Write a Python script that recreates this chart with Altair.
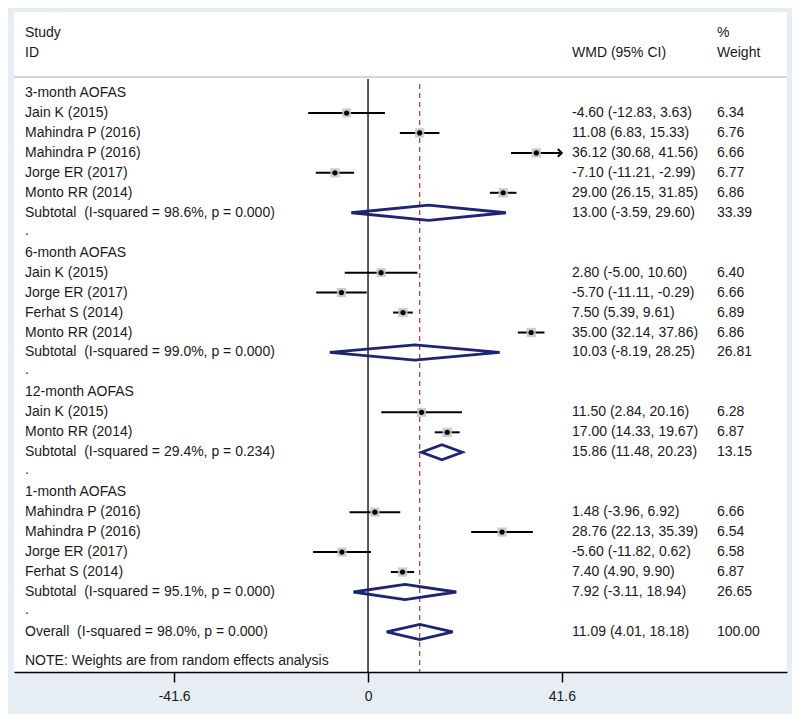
import altair as alt
import pandas as pd

# ---------------- data ----------------
group_names = ["3-month AOFAS", "6-month AOFAS", "12-month AOFAS", "1-month AOFAS"]
study_names = [
    ["Jain K (2015)", "Mahindra P (2016)", "Mahindra P (2016)", "Jorge ER (2017)", "Monto RR (2014)"],
    ["Jain K (2015)", "Jorge ER (2017)", "Ferhat S (2014)", "Monto RR (2014)"],
    ["Jain K (2015)", "Monto RR (2014)"],
    ["Mahindra P (2016)", "Mahindra P (2016)", "Jorge ER (2017)", "Ferhat S (2014)"],
]
study_est = [[-4.60, 11.08, 36.12, -7.10, 29.00], [2.80, -5.70, 7.50, 35.00], [11.50, 17.00], [1.48, 28.76, -5.60, 7.40]]
study_lo = [[-12.83, 6.83, 30.68, -11.21, 26.15], [-5.00, -11.11, 5.39, 32.14], [2.84, 14.33], [-3.96, 22.13, -11.82, 4.90]]
study_hi = [[3.63, 15.33, 41.56, -2.99, 31.85], [10.60, -0.29, 9.61, 37.86], [20.16, 19.67], [6.92, 35.39, 0.62, 9.90]]
study_wt = [[6.34, 6.76, 6.66, 6.77, 6.86], [6.40, 6.66, 6.89, 6.86], [6.28, 6.87], [6.66, 6.54, 6.58, 6.87]]

sub_het = ["I-squared = 98.6%, p = 0.000", "I-squared = 99.0%, p = 0.000",
           "I-squared = 29.4%, p = 0.234", "I-squared = 95.1%, p = 0.000"]
sub_est = [13.00, 10.03, 15.86, 7.92]
sub_lo = [-3.59, -8.19, 11.48, -3.11]
sub_hi = [29.60, 28.25, 20.23, 18.94]
sub_wt = [33.39, 26.81, 13.15, 26.65]

overall_het = "I-squared = 98.0%, p = 0.000"
overall_est, overall_lo, overall_hi, overall_wt = 11.09, 4.01, 18.18, 100.00

axis_ticks = [-41.6, 0, 41.6]
note_text = "NOTE: Weights are from random effects analysis"

# ---------------- build tables ----------------
def ci_text(e, l, h):
    return f"{e:.2f} ({l:.2f}, {h:.2f})"

SP2 = " \u00a0"  # double space as in the original

text_rows, study_rows, diamond_rows = [], [], []
r = 0
for g, gname in enumerate(group_names):
    text_rows.append(dict(row=r, label=gname, wmd="", wt=""))
    r += 1
    for i, s in enumerate(study_names[g]):
        e, l, h, w = study_est[g][i], study_lo[g][i], study_hi[g][i], study_wt[g][i]
        text_rows.append(dict(row=r, label=s, wmd=ci_text(e, l, h), wt=f"{w:.2f}"))
        study_rows.append(dict(row=r, est=e, lo=l, hi=h, w=w, arrow=h > 41.0))
        r += 1
    text_rows.append(dict(row=r, label=f"Subtotal{SP2}({sub_het[g]})",
                          wmd=ci_text(sub_est[g], sub_lo[g], sub_hi[g]), wt=f"{sub_wt[g]:.2f}"))
    diamond_rows.append(dict(row=r, est=sub_est[g], lo=sub_lo[g], hi=sub_hi[g], id=f"d{g}"))
    r += 1
    text_rows.append(dict(row=r - 0.1, label=".", wmd="", wt=""))
    r += 1
text_rows.append(dict(row=r, label=f"Overall{SP2}({overall_het})",
                      wmd=ci_text(overall_est, overall_lo, overall_hi), wt=f"{overall_wt:.2f}"))
diamond_rows.append(dict(row=r, est=overall_est, lo=overall_lo, hi=overall_hi, id="overall"))
text_rows.append(dict(row=r + 1.45, label=note_text, wmd="", wt=""))

texts = pd.DataFrame(text_rows)
studies = pd.DataFrame(study_rows)

hh = 0.38
dpts = []
for d in diamond_rows:
    dpts.append(dict(id=d["id"], x=d["lo"], y=d["row"], y2=d["row"]))
    dpts.append(dict(id=d["id"], x=d["est"], y=d["row"] - hh, y2=d["row"] + hh))
    dpts.append(dict(id=d["id"], x=d["hi"], y=d["row"], y2=d["row"]))
diamonds = pd.DataFrame(dpts)

headers = pd.DataFrame([
    dict(row=-3.0, txt="Study", col="left"),
    dict(row=-2.0, txt="ID", col="left"),
    dict(row=-2.0, txt="WMD (95% CI)", col="wmd"),
    dict(row=-3.0, txt="%", col="wt"),
    dict(row=-2.0, txt="Weight", col="wt"),
])

# ---------------- scales ----------------
W, H = 773, 660
xscale = alt.Scale(domain=[-75.97, 89.91], nice=False, zero=False)
yscale = alt.Scale(domain=[-4.058, 29.008], reverse=True, nice=False, zero=False)
FONT = "Liberation Sans"
TXT = "#1a1a1a"
FS = 14
X_LEFT, X_WMD, X_WT = 11, 558, 703

base_axis = alt.Axis(values=axis_ticks, title=None, grid=False,
                     labelExpr="datum.value == 0 ? '0' : (datum.value < 0 ? '-' + format(-datum.value, '.1f') : format(datum.value, '.1f'))",
                     domainColor="black", domainWidth=1.5, tickColor="black",
                     tickWidth=1.5, tickSize=10, labelFontSize=FS, labelFont=FONT,
                     labelColor=TXT, labelPadding=7)

header_rule = alt.Chart(pd.DataFrame({"a": [0]})).mark_rule(color="#c9c9c9", strokeWidth=1.5).encode(
    x=alt.value(0), x2=alt.value(W), y=alt.value(65))

zero_line = alt.Chart(pd.DataFrame({"v": [0]})).mark_rule(color="black", strokeWidth=1.3).encode(
    x=alt.X("v:Q", scale=xscale, axis=base_axis), y=alt.value(67), y2=alt.value(H))

overall_line = alt.Chart(pd.DataFrame({"v": [overall_est]})).mark_rule(
    color="#b0353b", strokeWidth=1.2, strokeDash=[5, 4]).encode(
    x=alt.X("v:Q", scale=xscale), y=alt.value(72), y2=alt.value(H))

ci = alt.Chart(studies).mark_rule(color="black", strokeWidth=2).encode(
    x=alt.X("lo:Q", scale=xscale), x2="hi:Q", y=alt.Y("row:Q", scale=yscale, axis=None))

boxes = alt.Chart(studies).mark_square(color="#c4c4c4", opacity=0.85).encode(
    x=alt.X("est:Q", scale=xscale), y=alt.Y("row:Q", scale=yscale),
    size=alt.Size("w:Q", scale=alt.Scale(domain=[0, 7], range=[0, 90]), legend=None))

dots = alt.Chart(studies).mark_circle(color="black", opacity=1, size=26).encode(
    x=alt.X("est:Q", scale=xscale), y=alt.Y("row:Q", scale=yscale))

arrows = alt.Chart(studies).transform_filter("datum.arrow").mark_point(
    shape="M-1,-1L0,0L-1,1", filled=False, color="black", strokeWidth=2, size=60, opacity=1).encode(
    x=alt.X("hi:Q", scale=xscale), y=alt.Y("row:Q", scale=yscale))

dia = alt.Chart(diamonds).mark_area(
    stroke="#1c2473", strokeWidth=2.8, fillOpacity=0, orient="vertical", strokeJoin="miter").encode(
    x=alt.X("x:Q", scale=xscale), y=alt.Y("y:Q", scale=yscale), y2="y2:Q", detail="id:N")

tstyle = dict(font=FONT, fontSize=FS, color=TXT, baseline="middle", align="left")
left_text = alt.Chart(texts).mark_text(**tstyle).encode(
    x=alt.value(X_LEFT), y=alt.Y("row:Q", scale=yscale), text="label:N")
wmd_text = alt.Chart(texts).mark_text(**tstyle).encode(
    x=alt.value(X_WMD), y=alt.Y("row:Q", scale=yscale), text="wmd:N")
wt_text = alt.Chart(texts).mark_text(**tstyle).encode(
    x=alt.value(X_WT), y=alt.Y("row:Q", scale=yscale), text="wt:N")

hdr_left = alt.Chart(headers).transform_filter("datum.col == 'left'").mark_text(**tstyle).encode(
    x=alt.value(X_LEFT), y=alt.Y("row:Q", scale=yscale), text="txt:N")
hdr_wmd = alt.Chart(headers).transform_filter("datum.col == 'wmd'").mark_text(**tstyle).encode(
    x=alt.value(X_WMD), y=alt.Y("row:Q", scale=yscale), text="txt:N")
hdr_wt = alt.Chart(headers).transform_filter("datum.col == 'wt'").mark_text(**tstyle).encode(
    x=alt.value(X_WT), y=alt.Y("row:Q", scale=yscale), text="txt:N")

chart = alt.layer(
    header_rule, zero_line, overall_line, ci, boxes, dots, arrows, dia,
    left_text, wmd_text, wt_text, hdr_left, hdr_wmd, hdr_wt,
).properties(
    width=W, height=H,
    autosize=alt.AutoSizeParams(type="none"),
    padding={"left": 6, "top": 4, "right": 5, "bottom": 42},
    background="#e6eef3",
).configure_view(fill="white", stroke=None)

chart.save("out.html", embed_options={"renderer": "svg", "actions": False})
